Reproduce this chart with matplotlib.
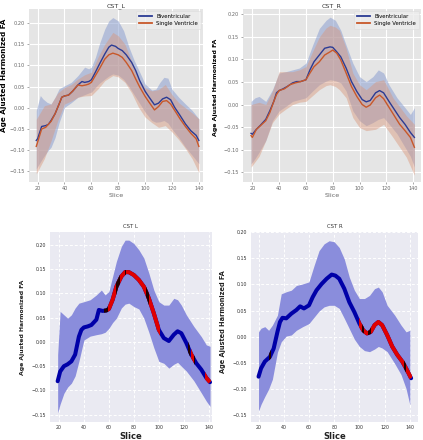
import numpy as np
import matplotlib
matplotlib.use("Agg")
import matplotlib.pyplot as plt
from matplotlib.patches import Rectangle

# ---------------- data: top row (group means and bands) ----------------
L_bi_x = [19, 20, 23, 26, 28, 30, 33, 36, 38, 40, 43, 46, 50, 53, 55, 58, 60, 63, 66, 70, 73, 75, 78, 80,
          83, 86, 90, 93, 96, 100, 103, 107, 110, 113, 116, 119, 122, 126, 130, 134, 138, 140]
L_bi_y = [-0.077, -0.073, -0.044, -0.042, -0.039, -0.030, -0.014, 0.009, 0.025, 0.028, 0.030, 0.039, 0.054,
          0.062, 0.060, 0.062, 0.066, 0.084, 0.103, 0.127, 0.143, 0.148, 0.145, 0.140, 0.135, 0.125, 0.107,
          0.088, 0.064, 0.039, 0.025, 0.007, 0.011, 0.021, 0.025, 0.019, 0.001, -0.018, -0.038, -0.054,
          -0.065, -0.077]
L_sv_x = [19, 20, 23, 26, 30, 33, 36, 38, 40, 43, 46, 50, 53, 56, 58, 60, 63, 66, 70, 73, 76, 80, 83, 86,
          90, 93, 96, 100, 103, 107, 110, 113, 116, 119, 122, 126, 130, 134, 138, 140]
L_sv_y = [-0.091, -0.081, -0.050, -0.046, -0.032, -0.014, 0.009, 0.025, 0.028, 0.030, 0.039, 0.054, 0.052,
          0.054, 0.056, 0.060, 0.076, 0.092, 0.115, 0.125, 0.129, 0.125, 0.119, 0.107, 0.088, 0.068, 0.049,
          0.027, 0.013, -0.005, 0.003, 0.015, 0.017, 0.009, -0.006, -0.026, -0.044, -0.060, -0.073, -0.091]
L_bi_band_x = [19, 22, 24, 27, 30, 33, 36, 40, 45, 50, 55, 58, 60, 63, 66, 70, 73, 76, 80, 84, 88, 92, 96,
               100, 105, 108, 111, 114, 117, 120, 125, 130, 135, 140]
L_bi_hi = [-0.006, 0.029, 0.021, 0.013, 0.009, 0.025, 0.045, 0.052, 0.060, 0.076, 0.096, 0.092, 0.096,
           0.119, 0.151, 0.186, 0.205, 0.213, 0.205, 0.182, 0.143, 0.111, 0.084, 0.056, 0.042, 0.044, 0.060,
           0.072, 0.070, 0.044, 0.025, 0.009, -0.006, -0.026]
L_bi_lo = [-0.144, -0.128, -0.118, -0.104, -0.093, -0.070, -0.035, 0.001, 0.012, 0.025, 0.031, 0.035, 0.037,
           0.048, 0.058, 0.068, 0.075, 0.080, 0.077, 0.067, 0.050, 0.030, 0.010, -0.010, -0.030, -0.034,
           -0.033, -0.030, -0.036, -0.050, -0.070, -0.093, -0.112, -0.132]
L_sv_band_x = [19, 25, 30, 35, 40, 45, 50, 55, 60, 65, 70, 76, 80, 85, 90, 95, 100, 105, 110, 115, 120, 125,
               130, 135, 140]
L_sv_hi = [-0.027, 0.005, 0.009, 0.035, 0.048, 0.055, 0.068, 0.078, 0.084, 0.120, 0.150, 0.178, 0.170,
           0.150, 0.110, 0.069, 0.047, 0.040, 0.043, 0.055, 0.031, 0.012, 0.000, -0.012, -0.026]
L_sv_lo = [-0.156, -0.120, -0.078, -0.030, 0.009, 0.016, 0.025, 0.028, 0.029, 0.045, 0.064, 0.076, 0.073,
           0.060, 0.035, 0.002, -0.022, -0.035, -0.046, -0.042, -0.057, -0.075, -0.096, -0.120, -0.153]

R_bi_x = [19, 20, 23, 26, 30, 33, 36, 38, 40, 43, 46, 50, 53, 56, 60, 63, 66, 70, 74, 78, 80, 83, 86, 90,
          94, 98, 102, 105, 108, 112, 115, 118, 122, 126, 130, 134, 138, 141]
R_bi_y = [-0.064, -0.066, -0.055, -0.046, -0.033, -0.014, 0.007, 0.026, 0.031, 0.035, 0.040, 0.048, 0.051,
          0.051, 0.055, 0.077, 0.095, 0.110, 0.125, 0.128, 0.127, 0.117, 0.106, 0.081, 0.051, 0.029, 0.011,
          0.006, 0.009, 0.026, 0.031, 0.026, 0.007, -0.011, -0.029, -0.044, -0.062, -0.073]
R_sv_x = [19, 20, 23, 26, 30, 33, 36, 38, 40, 44, 48, 52, 56, 60, 63, 66, 70, 74, 78, 80, 83, 86, 90, 94,
          98, 102, 105, 108, 112, 115, 118, 122, 126, 130, 134, 138, 141]
R_sv_y = [-0.069, -0.073, -0.055, -0.047, -0.036, -0.018, 0.007, 0.022, 0.031, 0.035, 0.044, 0.048, 0.051,
          0.055, 0.070, 0.084, 0.095, 0.110, 0.117, 0.121, 0.114, 0.099, 0.070, 0.040, 0.018, 0.000, -0.006,
          -0.001, 0.015, 0.021, 0.013, -0.006, -0.025, -0.044, -0.058, -0.073, -0.095]
R_bi_band_x = [19, 22, 25, 30, 35, 40, 45, 50, 55, 60, 65, 70, 75, 78, 82, 86, 90, 95, 100, 105, 110, 114,
               118, 122, 128, 134, 138, 141]
R_bi_hi = [0.007, 0.015, 0.018, 0.007, 0.033, 0.070, 0.073, 0.077, 0.081, 0.092, 0.132, 0.169, 0.187, 0.194,
           0.187, 0.165, 0.132, 0.092, 0.062, 0.051, 0.062, 0.077, 0.070, 0.044, 0.015, -0.007, -0.022,
           -0.007]
R_bi_lo = [-0.132, -0.120, -0.106, -0.080, -0.036, -0.014, -0.004, 0.007, 0.011, 0.015, 0.030, 0.044, 0.052,
           0.055, 0.053, 0.048, 0.030, -0.014, -0.036, -0.047, -0.040, -0.033, -0.029, -0.043, -0.065,
           -0.095, -0.115, -0.139]
R_sv_band_x = [19, 25, 30, 35, 40, 45, 50, 55, 60, 65, 70, 75, 78, 82, 85, 90, 95, 100, 105, 112, 118, 125,
               130, 135, 141]
R_sv_hi = [0.000, 0.005, 0.000, 0.030, 0.073, 0.073, 0.073, 0.077, 0.084, 0.118, 0.150, 0.170, 0.176,
           0.172, 0.165, 0.125, 0.070, 0.044, 0.033, 0.051, 0.055, 0.015, -0.005, -0.025, -0.044]
R_sv_lo = [-0.139, -0.115, -0.080, -0.040, -0.021, -0.010, 0.000, 0.005, 0.007, 0.020, 0.033, 0.042, 0.044,
           0.040, 0.033, 0.015, -0.029, -0.051, -0.058, -0.055, -0.044, -0.073, -0.095, -0.117, -0.157]

# ---------------- data: bottom row (pooled mean, band, significance spans) ----------------
BL_x = [19, 21, 24, 27, 30, 33, 36, 38, 40, 43, 46, 50, 52, 55, 58, 60, 63, 66, 70, 73, 76, 80, 84, 88, 92,
        96, 100, 104, 108, 112, 115, 118, 122, 126, 130, 134, 138, 141]
BL_y = [-0.081, -0.061, -0.050, -0.046, -0.040, -0.026, 0.011, 0.025, 0.030, 0.032, 0.035, 0.046, 0.066,
        0.064, 0.065, 0.068, 0.087, 0.114, 0.135, 0.144, 0.144, 0.138, 0.128, 0.114, 0.090, 0.059, 0.025,
        0.008, 0.002, 0.015, 0.022, 0.018, -0.002, -0.026, -0.044, -0.057, -0.074, -0.083]
BL_band_x = [19, 21, 24, 27, 30, 33, 36, 40, 45, 50, 54, 57, 60, 63, 66, 70, 73, 76, 80, 84, 88, 92, 96, 100,
             104, 108, 112, 115, 118, 122, 128, 134, 138, 141]
BL_hi = [-0.026, 0.063, 0.056, 0.049, 0.056, 0.070, 0.080, 0.083, 0.087, 0.097, 0.107, 0.097, 0.104, 0.135,
         0.166, 0.197, 0.210, 0.210, 0.203, 0.190, 0.173, 0.142, 0.107, 0.083, 0.076, 0.076, 0.090, 0.087,
         0.076, 0.056, 0.032, 0.011, -0.006, -0.009]
BL_lo = [-0.146, -0.128, -0.106, -0.093, -0.085, -0.070, -0.040, 0.004, 0.012, 0.015, 0.017, 0.020, 0.028,
         0.040, 0.049, 0.070, 0.078, 0.080, 0.073, 0.068, 0.049, 0.020, -0.012, -0.040, -0.044, -0.054,
         -0.046, -0.042, -0.050, -0.060, -0.080, -0.105, -0.122, -0.133]
BL_red = [(59, 101), (126, 128), (137, 142)]
BL_black = [(56, 59), (66, 69), (73, 74), (90, 92), (123, 125), (128, 129)]

BR_x = [20, 22, 25, 29, 32, 35, 37, 39, 42, 46, 50, 53, 56, 60, 63, 66, 70, 74, 78, 81, 84, 88, 92, 96, 100,
        103, 106, 109, 112, 115, 118, 122, 126, 130, 134, 137, 141]
BR_y = [-0.077, -0.061, -0.048, -0.039, -0.023, 0.009, 0.028, 0.036, 0.035, 0.044, 0.051, 0.058, 0.054,
        0.060, 0.076, 0.089, 0.101, 0.111, 0.119, 0.117, 0.111, 0.092, 0.066, 0.047, 0.025, 0.012, 0.006,
        0.009, 0.022, 0.028, 0.022, 0.003, -0.019, -0.035, -0.048, -0.061, -0.080]
BR_band_x = [20, 22, 25, 28, 31, 35, 38, 42, 46, 50, 55, 60, 64, 68, 72, 76, 80, 84, 88, 92, 96, 100, 104,
             108, 112, 115, 118, 122, 128, 133, 137, 140]
BR_hi = [0.009, 0.016, 0.019, 0.012, 0.022, 0.041, 0.082, 0.086, 0.089, 0.098, 0.101, 0.105, 0.136, 0.165,
         0.178, 0.184, 0.182, 0.171, 0.149, 0.114, 0.089, 0.073, 0.073, 0.079, 0.092, 0.095, 0.086, 0.060,
         0.041, 0.022, 0.009, 0.012]
BR_lo = [-0.143, -0.130, -0.115, -0.101, -0.082, -0.030, -0.010, 0.001, 0.003, 0.012, 0.019, 0.025, 0.037,
         0.049, 0.057, 0.060, 0.060, 0.054, 0.035, 0.015, -0.005, -0.019, -0.027, -0.029, -0.024, -0.019,
         -0.022, -0.029, -0.052, -0.073, -0.100, -0.131]
BR_red = [(100, 142)]
BR_black = [(28.5, 29.5), (102, 104), (107, 109), (135, 137)]

titles_top = ["CST_L", "CST_R"]
titles_bot = ["CST L", "CST R"]
legend_labels = ["Biventricular", "Single Ventricle"]
ylabel = "Age Ajusted Harmonized FA"
xticks = [20, 40, 60, 80, 100, 120, 140]
yticks = [-0.15, -0.10, -0.05, 0.00, 0.05, 0.10, 0.15, 0.20]

# ---------------- figure ----------------
fig = plt.figure(figsize=(4.23, 4.40), dpi=100)
fig.patch.set_facecolor("white")

BI_LINE, BI_BAND = "#2b3b94", "#8c9fd0"
SV_LINE, SV_BAND = "#c8582a", "#d9967a"


def fmt(v):
    return f"{v:.2f}".replace("-", "\u2212")


def style_top(ax):
    ax.set_facecolor("#E5E5E5")
    for s in ax.spines.values():
        s.set_visible(False)
    ax.grid(True, color="white", linewidth=0.8)
    ax.set_axisbelow(True)
    ax.tick_params(labelsize=3.6, colors="#666666", length=1.5, width=0.4, pad=1.5)


def style_bot(ax):
    ax.set_facecolor("#EAEAF2")
    for s in ax.spines.values():
        s.set_visible(False)
    ax.grid(True, color="white", linewidth=0.7, linestyle=(0, (3, 2)))
    ax.set_axisbelow(True)
    ax.tick_params(labelsize=3.4, colors="#333333", length=0, pad=2.5)


top_axes = [fig.add_axes([0.0686, 0.5864, 0.411, 0.393]),
            fig.add_axes([0.5745, 0.5864, 0.421, 0.393])]
top_data = [
    (L_bi_x, L_bi_y, L_sv_x, L_sv_y, L_bi_band_x, L_bi_lo, L_bi_hi, L_sv_band_x, L_sv_lo, L_sv_hi,
     (13.6, 143), (-0.175, 0.233), 5.2, (-0.127, 0.615)),
    (R_bi_x, R_bi_y, R_sv_x, R_sv_y, R_bi_band_x, R_bi_lo, R_bi_hi, R_sv_band_x, R_sv_lo, R_sv_hi,
     (13.0, 146), (-0.172, 0.212), 4.5, (-0.14, 0.546)),
]
for ax, title, d in zip(top_axes, titles_top, top_data):
    bx, by, sx, sy, bbx, blo, bhi, sbx, slo, shi, xl, yl, yfs, ycoords = d
    style_top(ax)
    ax.fill_between(bbx, blo, bhi, color=BI_BAND, alpha=0.55, linewidth=0)
    ax.fill_between(sbx, slo, shi, color=SV_BAND, alpha=0.45, linewidth=0)
    ax.plot(bx, by, color=BI_LINE, linewidth=1.0, label=legend_labels[0])
    ax.plot(sx, sy, color=SV_LINE, linewidth=1.0, label=legend_labels[1])
    ax.set_xlim(*xl)
    ax.set_ylim(*yl)
    ax.set_xticks(xticks)
    ax.set_yticks(yticks)
    ax.set_yticklabels([fmt(v) for v in yticks])
    ax.set_title(title, fontsize=4.6, color="#333333", pad=1)
    ax.set_xlabel("Slice", fontsize=4.6, color="#666666", labelpad=1)
    ax.set_ylabel(ylabel, fontsize=yfs, fontweight="bold", color="black")
    ax.yaxis.set_label_coords(*ycoords)
    leg = ax.legend(loc="upper right", fontsize=3.9, frameon=True, handlelength=2.4,
                    borderpad=0.5, labelspacing=0.4, handletextpad=0.8, borderaxespad=0.4)
    leg.get_frame().set_facecolor("#EDEDED")
    leg.get_frame().set_edgecolor("#DDDDDD")
    leg.get_frame().set_linewidth(0.5)
    for line in leg.get_lines():
        line.set_linewidth(1.3)

bot_axes = [fig.add_axes([0.118, 0.041, 0.383, 0.432]),
            fig.add_axes([0.593, 0.041, 0.395, 0.432])]
bot_data = [
    (BL_x, BL_y, BL_band_x, BL_lo, BL_hi, BL_red, BL_black, (12.8, 142.5), (-0.165, 0.227), 4.4,
     (-0.155, 0.5)),
    (BR_x, BR_y, BR_band_x, BR_lo, BR_hi, BR_red, BR_black, (13.9, 146.4), (-0.164, 0.201), 4.8,
     (-0.15, 0.53)),
]
for ax, title, d in zip(bot_axes, titles_bot, bot_data):
    x, y, bx, lo, hi, reds, blacks, xl, yl, yfs, ycoords = d
    style_bot(ax)
    ax.fill_between(bx, lo, hi, color="#8a8ddc", alpha=1.0, linewidth=0, zorder=1)
    ax.plot(x, y, color="#0000a8", linewidth=2.9, solid_capstyle="round", zorder=3)
    for spans, col in ((reds, "#e00000"), (blacks, "#220000")):
        for (a, b) in spans:
            ln, = ax.plot(x, y, color=col, linewidth=2.9, solid_capstyle="butt", zorder=4)
            clip = Rectangle((a, -1), b - a, 2, transform=ax.transData)
            ln.set_clip_path(clip)
    ax.set_xlim(*xl)
    ax.set_ylim(*yl)
    ax.set_xticks(xticks)
    ax.set_yticks(yticks)
    ax.set_yticklabels([fmt(v) for v in yticks])
    ax.set_title(title, fontsize=3.9, color="#333333", pad=3)
    ax.set_xlabel("Slice", fontsize=6.0, fontweight="bold", color="#222222", labelpad=1)
    ax.set_ylabel(ylabel, fontsize=yfs, fontweight="bold", color="#222222")
    ax.yaxis.set_label_coords(*ycoords)

fig.savefig("out.png", dpi=100, facecolor="white")
